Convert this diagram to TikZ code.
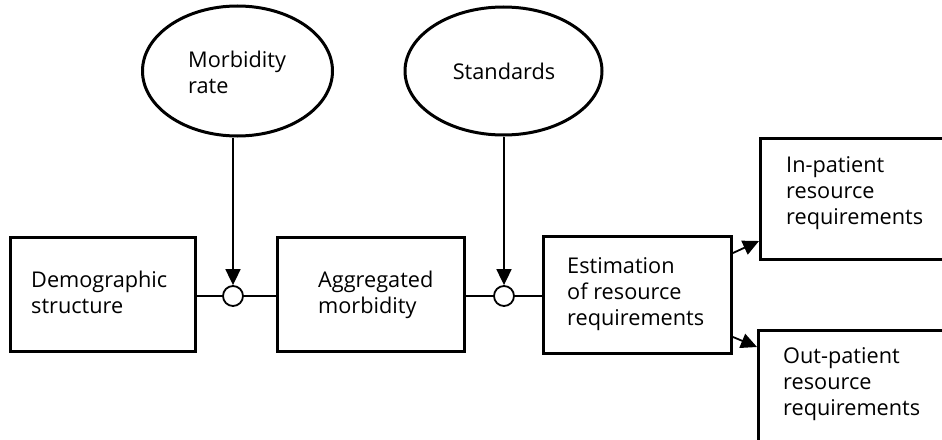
\documentclass[tikz,border=0pt]{standalone}
\usepackage{fontspec}
\setmainfont{Open Sans}
\usetikzlibrary{arrows.meta,shapes.geometric}
\tikzset{
  box/.style={draw,line width=3pt,rectangle,inner sep=0pt,anchor=north west},
  oval/.style={draw,line width=3pt,ellipse,inner sep=0pt},
  junc/.style={draw,line width=1.8pt,circle,minimum size=20pt,inner sep=0pt,fill=white},
  % multi-line labels: the base anchor sits on the last line
  lbl/.style={font=\fontsize{21.7}{26}\selectfont,align=left,inner sep=0pt,anchor=base west},
  link/.style={line width=1.8pt},
  flow/.style={line width=1.8pt,-{Triangle[length=16pt,width=15pt]}}
}
\begin{document}
\begin{tikzpicture}[x=1pt,y=-1pt]
\useasboundingbox (0,0) rectangle (942,439);
\clip (0,0) rectangle (942,439);

% inputs
\node[oval,minimum width=190pt,minimum height=130pt] (morb) at (237.5,71) {};
\node[oval,minimum width=197pt,minimum height=128pt] (stand) at (503.5,71) {};
\node[lbl] (morbtxt) at (188,93) {Morbidity\\rate};
\node[lbl,anchor=base] (standtxt) at (504,79) {Standards};

% processing chain
\node[box,minimum width=185pt,minimum height=114pt] (demo) at (9,236) {};
\node[box,minimum width=187pt,minimum height=114pt] (aggr) at (276,236) {};
\node[box,minimum width=188pt,minimum height=117pt] (estim) at (542,235) {};
\node[box,minimum width=230pt,minimum height=121pt] (inpat) at (759,137) {};
\node[box,minimum width=230pt,minimum height=140pt] (outpat) at (757,329) {};

\node[lbl] (demotxt) at (31,313) {Demographic\\structure};
\node[lbl] (aggrtxt) at (318,313) {Aggregated\\morbidity};
\node[lbl] (estimtxt) at (567,325) {Estimation\\of resource\\requirements};
\node[lbl] (inpattxt) at (786,224) {In-patient\\resource\\requirements};
\node[lbl] (outpattxt) at (783,415) {Out-patient\\resource\\requirements};

% junctions
\node[junc] (j1) at (233,296) {};
\node[junc] (j2) at (504,296) {};

% connectors
\draw[link] (demo.east |- j1) -- (j1.west);
\draw[link] (j1.east) -- (aggr.west |- j1);
\draw[link] (aggr.east |- j2) -- (j2.west);
\draw[link] (j2.east) -- (estim.west |- j2);
\draw[flow] (j1 |- morb.south) -- (j1.north);
\draw[flow] (j2 |- stand.south) -- (j2.north);

\coordinate (o1) at ([yshift=-18pt]estim.north east);
\coordinate (o2) at ([yshift=18pt]estim.south east);
\draw[flow] (o1) -- ([yshift=20pt]inpat.south west);
\draw[flow] (o2) -- ([yshift=-18pt]outpat.north west);
\end{tikzpicture}
\end{document}
